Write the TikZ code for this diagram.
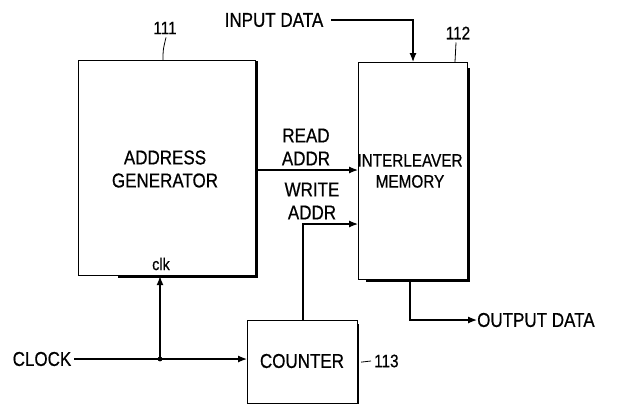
\documentclass[tikz,border=0pt]{standalone}
\usepackage{fontspec}
\setmainfont[FakeStretch=0.85,FakeBold=0.6]{Liberation Sans}
\usetikzlibrary{arrows.meta}
\begin{document}
\begin{tikzpicture}[x=1pt,y=-1pt,
  box/.style={draw, line width=1.2pt, inner sep=0pt, anchor=north west},
  lbl/.style={font=\fontsize{20}{23}\selectfont, inner sep=0pt, align=center},
  small/.style={font=\fontsize{18}{21}\selectfont, inner sep=0pt},
  wire/.style={line width=1.2pt},
  arr/.style={wire, -{Latex[length=9pt,width=7pt]}},
  heavy/.style={line width=3pt}]
\useasboundingbox (0,0) rectangle (624,405);
% boxes
\node[box, minimum width=177pt, minimum height=215pt] (ag) at (78,60) {};
\node[box, minimum width=109pt, minimum height=217pt] (mem) at (358,62) {};
\node[box, minimum width=110pt, minimum height=83pt] (cnt) at (247,320) {};
\draw[heavy] ([yshift=-1pt]ag.north east) -- (ag.south east) -- ([xshift=40pt]ag.south west);
\draw[heavy] ([yshift=-6pt]mem.north east) -- (mem.south east) -- ([xshift=8pt]mem.south west);
\draw[line width=2pt] ([yshift=-4pt]cnt.north east) -- (cnt.south east);
% box texts
\node[lbl] (agt) at (165,169) {ADDRESS\\GENERATOR};
\node[lbl, font=\fontsize{18}{21}\selectfont] (memt) at (410,171) {INTERLEAVER\\MEMORY};
\node[lbl] (cntt) at (302,361) {COUNTER};
\node[small, font=\fontsize{17}{20}\selectfont] (clk) at (161,264) {clk};
% reference numbers
\node[small] (n111) at (165,28) {111};
\draw[line width=0.8pt] (n111.south) ++(1,3) .. controls (163,50) .. (163,60);
\node[small] (n112) at (458,33) {112};
\draw[line width=0.8pt] (n112.south) ++(-2,3) .. controls (455,52) .. (455,62);
\node[small, anchor=west] (n113) at (374,361) {113};
\draw[line width=0.8pt] ([xshift=3pt]cnt.east) -- ([xshift=-3pt]n113.west);
% input data
\node[lbl] (in) at (274,20) {INPUT DATA};
\coordinate (inend) at (413,62);
\draw[arr] ([xshift=8pt]in.east) -| (inend);
% read addr
\node[lbl] (rd) at (306,147) {READ\\ADDR};
\coordinate (rds) at (255,170);
\draw[arr] (rds) -- (rds -| mem.west);
% write addr
\node[lbl] (wr) at (312,201) {WRITE\\ADDR};
\coordinate (wrc) at (303,224);
\draw[arr] (wrc |- cnt.north) -- (wrc) -- (wrc -| mem.west);
% clock
\node[lbl] (clock) at (42,359) {CLOCK};
\coordinate (jn) at (160,359);
\draw[arr] ([xshift=3pt]clock.east) -- (jn) -- (jn -| cnt.west);
\draw[arr] (jn) -- (jn |- ag.south);
\fill (jn) circle (2.4pt);
% output
\coordinate (oc) at (410,320);
\node[lbl, anchor=west] (out) at (477,320) {OUTPUT DATA};
\draw[arr] (oc |- mem.south) -- (oc) -- (out.west);
\end{tikzpicture}
\end{document}
